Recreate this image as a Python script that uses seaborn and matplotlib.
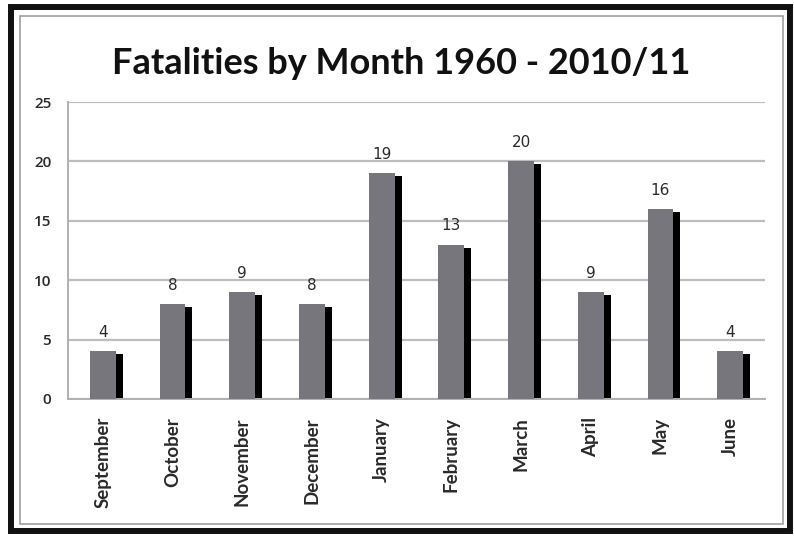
import matplotlib
matplotlib.use("Agg")
import matplotlib.pyplot as plt
import matplotlib.transforms as mtransforms
from matplotlib.patches import Rectangle
import seaborn as sns
import pandas as pd

months = ["September", "October", "November", "December", "January",
          "February", "March", "April", "May", "June"]
fatalities = [4, 8, 9, 8, 19, 13, 20, 9, 16, 4]
title = "Fatalities by Month 1960 - 2010/11"
yticks = [0, 5, 10, 15, 20, 25]

df = pd.DataFrame({"month": months, "fatalities": fatalities})

sns.set_style("white")
plt.rcParams["font.family"] = ["DejaVu Sans"]

W, H, DPI = 794, 537, 100
fig = plt.figure(figsize=(W / DPI, H / DPI), dpi=DPI)
ax = fig.add_axes([68 / W, 1 - 399 / H, (765 - 68) / W, (399 - 102) / H])

# shadow bars (black), drawn first and shifted right/down
sns.barplot(data=df, x="month", y="fatalities", color="black", width=0.37,
            saturation=1, ax=ax, zorder=2)
shadow_container = ax.containers[-1]
off = mtransforms.ScaledTranslation(7 / DPI, -3 / DPI, fig.dpi_scale_trans)
for p in shadow_container:
    p.set_transform(ax.transData + off)
    p.set_linewidth(0)

# main bars (gray)
sns.barplot(data=df, x="month", y="fatalities", color="#76767c", width=0.37,
            saturation=1, ax=ax, zorder=3)
main_container = ax.containers[-1]
for p in main_container:
    p.set_linewidth(0)

ax.bar_label(main_container, labels=[str(v) for v in fatalities], padding=8,
             fontsize=11, color="#2a2a2a", zorder=5)

ax.set_ylim(0, 25)
ax.set_xlim(-0.5, len(months) - 0.5)
ax.set_yticks(yticks)
ax.yaxis.grid(True, color="#bdbdbd", linewidth=1.6, zorder=0)
ax.set_axisbelow(True)
ax.set_xlabel("")
ax.set_ylabel("")

for s in ["top", "right"]:
    ax.spines[s].set_visible(False)
for s in ["left", "bottom"]:
    ax.spines[s].set_color("#b0b0b0")
    ax.spines[s].set_linewidth(1.4)

ax.tick_params(axis="y", which="major", length=6, color="#bdbdbd", width=1.6,
               labelsize=11, labelcolor="#2a2a2a", pad=6)
ax.set_yticks(yticks)
ax.set_yticklabels([str(v) for v in yticks], fontsize=11, fontweight="semibold",
                   family="Open Sans", color="#2a2a2a")
ax.set_xticks(range(len(months)))
ax.set_xticklabels(months, rotation=90, fontsize=13.5, fontweight="bold",
                   color="#2a2a2a", family="Lato")
ax.tick_params(axis="x", which="major", length=0, pad=13)
ax.set_xticks([i - 0.5 for i in range(len(months) + 1)], minor=True)
ax.tick_params(axis="x", which="minor", length=5, color="#b0b0b0", width=1.2,
               direction="out")

fig.text(401 / W, 1 - 64 / H, title, ha="center", va="center",
         fontsize=26, family="Lato", fontweight="bold", color="#111111")

# frames
fig.patches.append(Rectangle((11 / W, 1 - 531 / H), (790 - 11) / W, (531 - 7) / H,
                             transform=fig.transFigure, fill=False,
                             edgecolor="#111111", linewidth=4.3, zorder=10))
fig.patches.append(Rectangle((20 / W, 1 - 524 / H), (783 - 20) / W, (524 - 16) / H,
                             transform=fig.transFigure, fill=False,
                             edgecolor="#a0a0a0", linewidth=1.2, zorder=10))

fig.savefig("out.png", dpi=DPI)
